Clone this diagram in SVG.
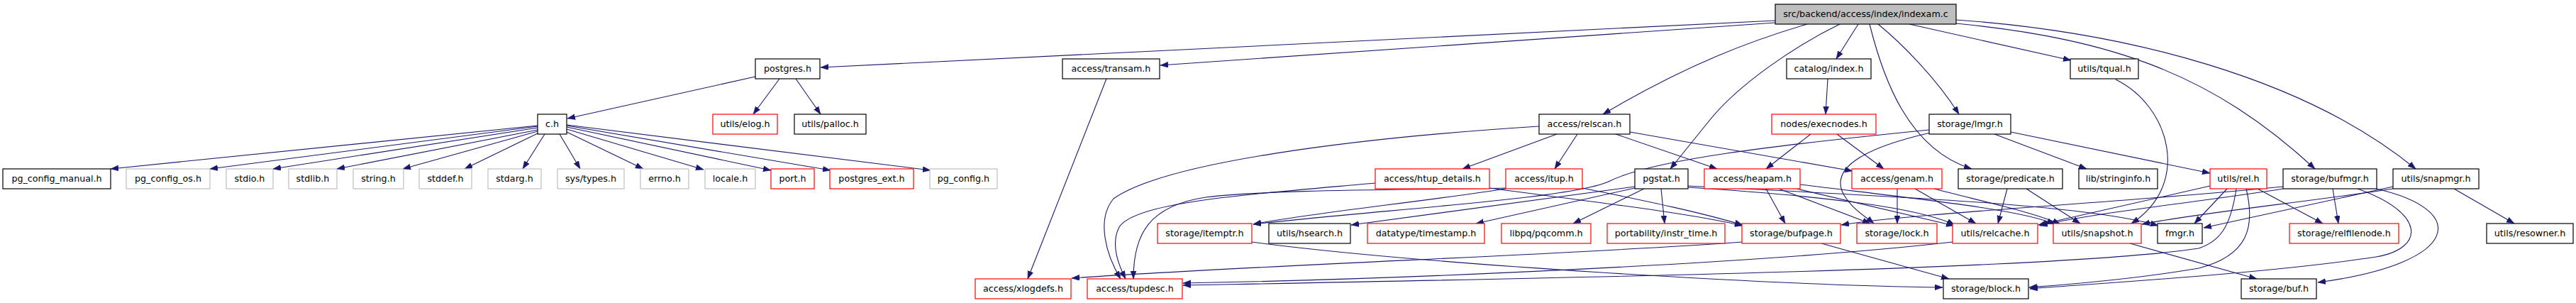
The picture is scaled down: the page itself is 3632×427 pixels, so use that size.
<svg xmlns="http://www.w3.org/2000/svg" width="3632" height="427" viewBox="0 0 3632 427">
<style>
rect{fill:#fff;stroke-width:1.2}
.b{stroke:#000}
.r{stroke:#ff0000}
.g{stroke:#bfbfbf}
.top{fill:#bfbfbf;stroke:#000}
text{font-family:"DejaVu Sans","Liberation Sans",sans-serif;font-size:12.7px;text-anchor:middle;fill:#000}
#edges path{fill:none;stroke:#191970;stroke-width:1.1;marker-end:url(#a)}
</style>
<defs>
<marker id="a" markerUnits="userSpaceOnUse" markerWidth="12" markerHeight="9" refX="11" refY="4" orient="auto"><path d="M0,0 L11,4 L0,8 z" fill="#191970" stroke="#191970" stroke-width="0.5"/></marker>
</defs>
<rect x="0" y="0" width="3632" height="427" style="fill:#fff;stroke:none"/>
<g id="edges">
<path d="M2503,29 L1157,95"/>
<path d="M2503,32 L1636,92"/>
<path d="M2548,34 C2470,57 2380,90 2260,161"/>
<path d="M2594,34 C2530,65 2450,120 2410,170 L2355,238"/>
<path d="M2620,34 L2589,83"/>
<path d="M2636,34 C2655,110 2690,210 2780,238"/>
<path d="M2648,34 C2680,60 2730,110 2762,161"/>
<path d="M2692,34 L2920,85"/>
<path d="M2758,33 C2980,55 3120,105 3264,238"/>
<path d="M2758,28 C3000,45 3250,110 3406,238"/>
<path d="M1065,108 L800,167"/>
<path d="M1099,111 L1062,161"/>
<path d="M1122,111 L1157,161"/>
<path d="M758,177 L156,238"/>
<path d="M758,178 L296,238"/>
<path d="M758,180 L385,238"/>
<path d="M758,183 L475,238"/>
<path d="M758,185 L568,238"/>
<path d="M758,188 L655,238"/>
<path d="M768,189 L737,238"/>
<path d="M789,189 L818,238"/>
<path d="M799,186 L907,238"/>
<path d="M799,182 L992,239"/>
<path d="M799,179 L1087,240"/>
<path d="M799,177 L1171,240"/>
<path d="M799,176 L1312,240"/>
<path d="M1560,111 L1449,393"/>
<path d="M2577,111 L2574,161"/>
<path d="M2553,189 L2490,238"/>
<path d="M2590,189 L2656,238"/>
<path d="M2195,189 L2062,238"/>
<path d="M2224,189 L2192,238"/>
<path d="M2278,189 L2421,238"/>
<path d="M2298,186 L2612,241"/>
<path d="M2170,178 C1900,195 1640,230 1570,280 C1545,310 1560,360 1580,393"/>
<path d="M1939,258 C1750,275 1600,285 1578,320 C1565,345 1578,375 1587,393"/>
<path d="M2123,265 C2000,268 1800,266 1700,278 C1620,290 1598,330 1598,393"/>
<path d="M2123,266 C2000,285 1850,300 1767,316"/>
<path d="M2720,183 C2500,205 2330,225 2270,255 C2220,280 1950,295 1767,316"/>
<path d="M2100,265 C2250,285 2380,300 2457,318"/>
<path d="M2231,265 C2330,285 2400,300 2457,317"/>
<path d="M2305,263 L1905,317"/>
<path d="M2305,265 L2081,315"/>
<path d="M2318,266 L2218,315"/>
<path d="M2342,266 L2347,315"/>
<path d="M2380,264 C2550,275 2700,290 2756,317"/>
<path d="M2380,262 C2700,278 2950,290 3043,318"/>
<path d="M2490,266 L2517,315"/>
<path d="M2508,266 L2637,315"/>
<path d="M2533,266 L2755,318"/>
<path d="M2538,260 C2700,280 2850,295 2897,316"/>
<path d="M2675,266 L2675,315"/>
<path d="M2700,266 L2786,315"/>
<path d="M2727,266 C2800,285 2870,300 2905,316"/>
<path d="M2830,266 L2817,315"/>
<path d="M2857,266 L2933,315"/>
<path d="M2812,189 L2942,238"/>
<path d="M2835,186 L3116,244"/>
<path d="M2722,187 C2620,210 2580,240 2600,275 C2612,295 2630,305 2642,315"/>
<path d="M3116,262 L2874,317"/>
<path d="M3140,266 L3094,315"/>
<path d="M3153,266 C3145,320 3130,340 3100,350 C2900,380 2200,392 1668,402"/>
<path d="M3167,266 C3180,320 3170,360 3100,378 C3000,395 2900,402 2861,405"/>
<path d="M3183,266 L3275,315"/>
<path d="M3289,266 L3297,315"/>
<path d="M3219,263 C3000,285 2700,300 2596,317"/>
<path d="M3219,266 C3100,285 2950,300 2876,318"/>
<path d="M3350,266 C3480,295 3475,370 3268,398"/>
<path d="M3324,266 C3420,300 3420,350 3350,362 C3200,385 2950,400 2862,407"/>
<path d="M3460,266 L3545,315"/>
<path d="M3374,263 L3107,321"/>
<path d="M3374,266 C3250,285 3100,300 3020,316"/>
<path d="M2983,112 C3060,150 3090,260 3005,315"/>
<path d="M2568,343 L2748,393"/>
<path d="M2456,341 C2200,360 1800,372 1511,392"/>
<path d="M1765,341 C2000,372 2500,402 2739,405"/>
<path d="M2753,341 C2500,370 2000,393 1668,399"/>
<path d="M3003,343 L3182,393"/>
</g>
<g id="indexam"><rect class="top" x="2503" y="6" width="255" height="28"/><text x="2630.5" y="24">src/backend/access/index/indexam.c</text></g>
<g id="postgres"><rect class="b" x="1065" y="83" width="91" height="28"/><text x="1110.5" y="101">postgres.h</text></g>
<g id="transam"><rect class="b" x="1498" y="83" width="137" height="28"/><text x="1566.5" y="101">access/transam.h</text></g>
<g id="catindex"><rect class="b" x="2519" y="83" width="119" height="28"/><text x="2578.5" y="101">catalog/index.h</text></g>
<g id="tqual"><rect class="b" x="2919" y="83" width="96" height="28"/><text x="2967" y="101">utils/tqual.h</text></g>
<g id="ch"><rect class="b" x="758" y="161" width="41" height="28"/><text x="778.5" y="179">c.h</text></g>
<g id="elog"><rect class="r" x="1005" y="161" width="91" height="28"/><text x="1050.5" y="179">utils/elog.h</text></g>
<g id="palloc"><rect class="b" x="1120" y="161" width="101" height="28"/><text x="1170.5" y="179">utils/palloc.h</text></g>
<g id="relscan"><rect class="b" x="2170" y="161" width="128" height="28"/><text x="2234" y="179">access/relscan.h</text></g>
<g id="execnodes"><rect class="r" x="2498" y="161" width="147" height="28"/><text x="2571.5" y="179">nodes/execnodes.h</text></g>
<g id="lmgr"><rect class="b" x="2720" y="161" width="115" height="28"/><text x="2777.5" y="179">storage/lmgr.h</text></g>
<g id="pgcm"><rect class="b" x="4" y="238" width="152" height="28"/><text x="80" y="256">pg_config_manual.h</text></g>
<g id="pgos"><rect class="g" x="178" y="238" width="118" height="28"/><text x="237" y="256">pg_config_os.h</text></g>
<g id="stdio"><rect class="g" x="319" y="238" width="66" height="28"/><text x="352" y="256">stdio.h</text></g>
<g id="stdlib"><rect class="g" x="407" y="238" width="68" height="28"/><text x="441" y="256">stdlib.h</text></g>
<g id="string"><rect class="g" x="498" y="238" width="71" height="28"/><text x="533.5" y="256">string.h</text></g>
<g id="stddef"><rect class="g" x="591" y="238" width="74" height="28"/><text x="628" y="256">stddef.h</text></g>
<g id="stdarg"><rect class="g" x="688" y="238" width="75" height="28"/><text x="725.5" y="256">stdarg.h</text></g>
<g id="systypes"><rect class="g" x="786" y="238" width="94" height="28"/><text x="833" y="256">sys/types.h</text></g>
<g id="errno"><rect class="g" x="903" y="238" width="68" height="28"/><text x="937" y="256">errno.h</text></g>
<g id="locale"><rect class="g" x="994" y="238" width="71" height="28"/><text x="1029.5" y="256">locale.h</text></g>
<g id="port"><rect class="r" x="1087" y="238" width="61" height="28"/><text x="1117.5" y="256">port.h</text></g>
<g id="pgext"><rect class="r" x="1170" y="238" width="118" height="28"/><text x="1229" y="256">postgres_ext.h</text></g>
<g id="pgconfig"><rect class="g" x="1311" y="238" width="95" height="28"/><text x="1358.5" y="256">pg_config.h</text></g>
<g id="htup"><rect class="r" x="1939" y="238" width="161" height="28"/><text x="2019.5" y="256">access/htup_details.h</text></g>
<g id="itup"><rect class="r" x="2123" y="238" width="108" height="28"/><text x="2177" y="256">access/itup.h</text></g>
<g id="pgstat"><rect class="b" x="2305" y="238" width="75" height="28"/><text x="2342.5" y="256">pgstat.h</text></g>
<g id="heapam"><rect class="r" x="2403" y="238" width="135" height="28"/><text x="2470.5" y="256">access/heapam.h</text></g>
<g id="genam"><rect class="r" x="2611" y="238" width="127" height="28"/><text x="2674.5" y="256">access/genam.h</text></g>
<g id="predicate"><rect class="b" x="2761" y="238" width="147" height="28"/><text x="2834.5" y="256">storage/predicate.h</text></g>
<g id="stringinfo"><rect class="b" x="2931" y="238" width="111" height="28"/><text x="2986.5" y="256">lib/stringinfo.h</text></g>
<g id="rel"><rect class="r" x="3116" y="238" width="80" height="28"/><text x="3156" y="256">utils/rel.h</text></g>
<g id="bufmgr"><rect class="b" x="3219" y="238" width="132" height="28"/><text x="3285" y="256">storage/bufmgr.h</text></g>
<g id="snapmgr"><rect class="b" x="3374" y="238" width="121" height="28"/><text x="3434.5" y="256">utils/snapmgr.h</text></g>
<g id="itemptr"><rect class="r" x="1632" y="315" width="133" height="28"/><text x="1698.5" y="333">storage/itemptr.h</text></g>
<g id="hsearch"><rect class="b" x="1789" y="315" width="115" height="28"/><text x="1846.5" y="333">utils/hsearch.h</text></g>
<g id="timestamp"><rect class="r" x="1928" y="315" width="165" height="28"/><text x="2010.5" y="333">datatype/timestamp.h</text></g>
<g id="pqcomm"><rect class="r" x="2117" y="315" width="126" height="28"/><text x="2180" y="333">libpq/pqcomm.h</text></g>
<g id="instrtime"><rect class="r" x="2266" y="315" width="166" height="28"/><text x="2349" y="333">portability/instr_time.h</text></g>
<g id="bufpage"><rect class="r" x="2456" y="315" width="139" height="28"/><text x="2525.5" y="333">storage/bufpage.h</text></g>
<g id="lock"><rect class="r" x="2618" y="315" width="113" height="28"/><text x="2674.5" y="333">storage/lock.h</text></g>
<g id="relcache"><rect class="r" x="2753" y="315" width="120" height="28"/><text x="2813" y="333">utils/relcache.h</text></g>
<g id="snapshot"><rect class="r" x="2895" y="315" width="124" height="28"/><text x="2957" y="333">utils/snapshot.h</text></g>
<g id="fmgr"><rect class="b" x="3042" y="315" width="63" height="28"/><text x="3073.5" y="333">fmgr.h</text></g>
<g id="relfilenode"><rect class="r" x="3228" y="315" width="154" height="28"/><text x="3305" y="333">storage/relfilenode.h</text></g>
<g id="resowner"><rect class="b" x="3506" y="315" width="122" height="28"/><text x="3567" y="333">utils/resowner.h</text></g>
<g id="xlogdefs"><rect class="r" x="1375" y="393" width="135" height="28"/><text x="1442.5" y="411">access/xlogdefs.h</text></g>
<g id="tupdesc"><rect class="r" x="1533" y="393" width="134" height="28"/><text x="1600" y="411">access/tupdesc.h</text></g>
<g id="block"><rect class="b" x="2740" y="393" width="120" height="28"/><text x="2800" y="411">storage/block.h</text></g>
<g id="buf"><rect class="b" x="3160" y="393" width="106" height="28"/><text x="3213" y="411">storage/buf.h</text></g>
</svg>
